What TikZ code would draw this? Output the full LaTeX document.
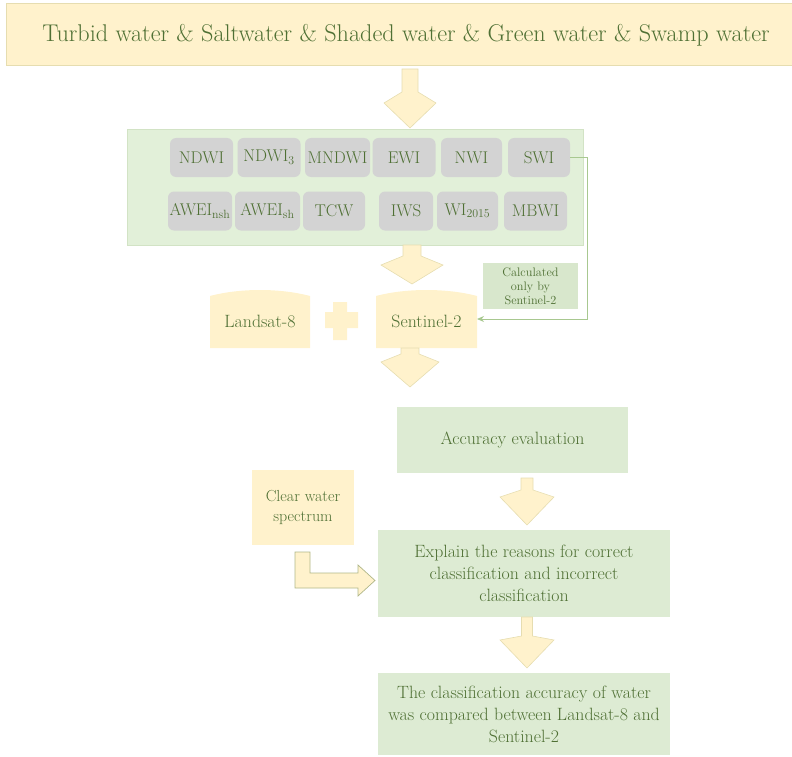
\documentclass[tikz,border=0pt]{standalone}
\usepackage{fontspec}
\usetikzlibrary{arrows.meta}
\definecolor{txt}{HTML}{4F7034}
\definecolor{yel}{HTML}{FFF2CC}
\definecolor{yelline}{HTML}{E6DDB0}
\definecolor{grn}{HTML}{E2F0D9}
\definecolor{grnbox}{HTML}{DDEBD3}
\definecolor{grnline}{HTML}{D2E3C5}
\definecolor{calc}{HTML}{D8E7CC}
\definecolor{gry}{HTML}{D3D3D3}
\definecolor{conn}{HTML}{A8C890}
\newcommand\blockdown[7]{\draw[arr] ({#1-#6},#2) -- ({#1+#6},#2) -- ({#1+#6},#3) -- ({#1+#7},#4) -- (#1,#5) -- ({#1-#7},#4) -- ({#1-#6},#3) -- cycle;}
\begin{document}
\begin{tikzpicture}[x=1pt,y=-1pt,
  arr/.style={fill=yel,draw=yelline,line width=0.6pt,line join=miter},
  lbl/.style={text=txt,font=\fontsize{17.8}{20}\selectfont,align=center,inner sep=0pt},
  idx/.style={fill=gry,rounded corners=6pt,minimum width=#1,minimum height=39pt,text=txt,font=\fontsize{17}{20}\selectfont,inner sep=0pt},
  idx/.default=63pt]
\useasboundingbox (0,0) rectangle (792,757);
% top box
\draw[fill=yel,draw=yelline,line width=0.5pt] (6,3) rectangle (793,65);
\node[lbl,font=\fontsize{24.2}{28}\selectfont] (top) at (406,35) {Turbid water \& Saltwater \& Shaded water \& Green water \& Swamp water};
\blockdown{410}{69}{92}{103}{128}{8}{26}
% green panel
\node[fill=grn,draw=grnline,line width=0.5pt,minimum width=456pt,minimum height=116pt,inner sep=0pt] (panel) at (355,187) {};
% index boxes row 1
\node[idx] (ndwi)  at (201.5,157.5) {NDWI};
\node[idx] (ndwi3) at (269,157.5) {NDWI\textsubscript{3}};
\node[idx=65pt] (mndwi) at (337.5,157.5) {MNDWI};
\node[idx] (ewi)   at (404,157.5) {EWI};
\node[idx=61pt] (nwi) at (471.5,157.5) {NWI};
\node[idx=62pt] (swi) at (539,157.5) {SWI};
% row 2
\node[idx=64pt] (aweinsh) at (200,211) {AWEI\textsubscript{nsh}};
\node[idx=65pt] (aweish) at (267.5,211) {AWEI\textsubscript{sh}};
\node[idx=62pt] (tcw) at (334,211) {TCW};
\node[idx=54pt] (iws) at (406,211) {IWS};
\node[idx=61pt] (wi) at (467.5,211) {WI\textsubscript{2015}};
\node[idx=63pt] (mbwi) at (535.5,211) {MBWI};
\blockdown{412}{245}{256}{265}{284}{9}{31}
% Landsat-8 and Sentinel-2
\fill[yel] (210,348) -- (210,296) .. controls (240,288) and (280,288) .. (310,296) -- (310,348) -- cycle;
\node[lbl] (landsat) at (260,321) {Landsat-8};
\fill[yel] (376,348) -- (376,296) .. controls (406,288) and (447,288) .. (477,296) -- (477,348) -- cycle;
\node[lbl] (sentinel) at (426.5,321) {Sentinel-2};
\coordinate (sentE) at (477,319);
% plus
\fill[yel] (333,302) -- (347,302) -- (347,312) -- (358,312) -- (358,328) -- (347,328) -- (347,340) -- (333,340) -- (333,328) -- (325,328) -- (325,312) -- (333,312) -- cycle;
% calculated box
\node[fill=calc,minimum width=95pt,minimum height=46pt,inner sep=0pt,text=txt,font=\fontsize{12.3}{14}\selectfont,align=center] (calc) at (530.5,286) {Calculated\\only by\\Sentinel-2};
% connector
\draw[conn,line width=1pt,-{Stealth[length=7pt,width=6pt]}] (swi.east) -- (587,157.5) -- (587,319) -- (sentE);
\blockdown{410}{348}{354}{362}{387}{9}{29}
% accuracy
\node[fill=grnbox,minimum width=231pt,minimum height=66pt,lbl] (acc) at (512.5,440) {Accuracy evaluation};
\blockdown{527}{478}{490}{497}{525}{6}{27}
% clear water
\node[fill=yel,minimum width=102pt,minimum height=75pt,lbl,font=\fontsize{16}{20}\selectfont] (clear) at (303,507.5) {Clear water\\spectrum};
% explain
\node[fill=grnbox,minimum width=292pt,minimum height=87pt,lbl,font=\fontsize{17.8}{22}\selectfont] (explain) at (524,573.5) {Explain the reasons for correct\\classification and incorrect\\classification};
% bent arrow
\draw[fill=yel,draw=txt!45!yel,line width=0.7pt] (295,552) -- (310,552) -- (310,573) -- (358,573) -- (358,565) -- (375,580.5) -- (358,596) -- (358,588) -- (295,588) -- cycle;
\blockdown{527}{617}{636}{640}{668}{5.5}{27}
% final
\node[fill=grnbox,minimum width=292pt,minimum height=82pt,lbl,font=\fontsize{17.8}{22}\selectfont] (final) at (524,714) {The classification accuracy of water\\was compared between Landsat-8 and\\Sentinel-2};
\end{tikzpicture}
\end{document}
